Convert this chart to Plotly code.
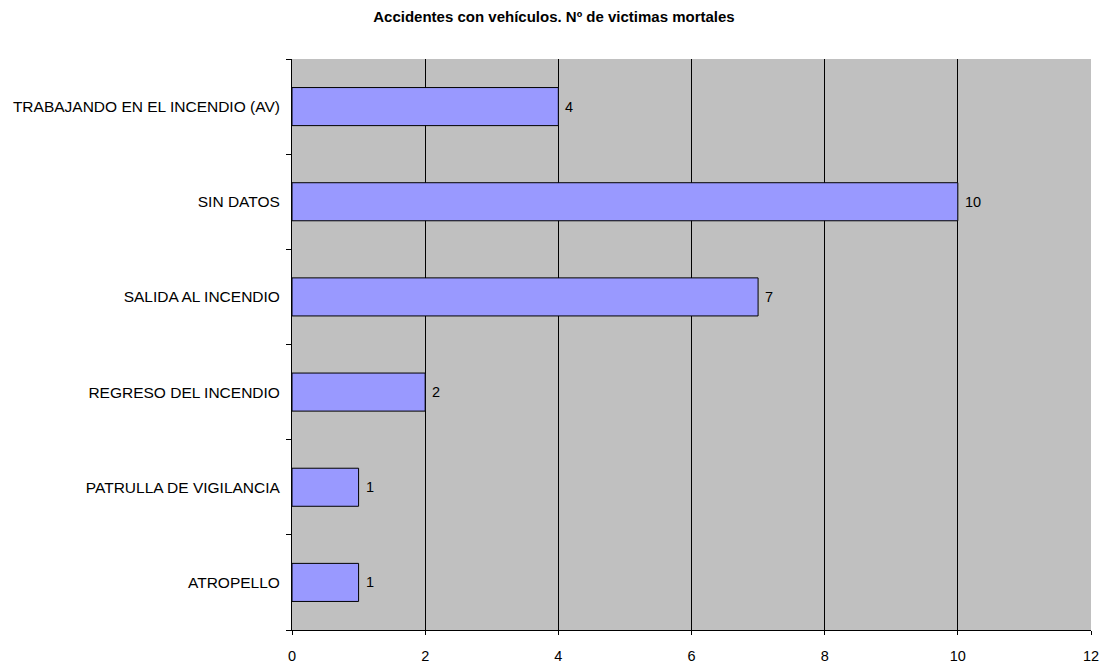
import plotly.graph_objects as go

categories = ["ATROPELLO", "PATRULLA DE VIGILANCIA", "REGRESO DEL INCENDIO",
              "SALIDA AL INCENDIO", "SIN DATOS", "TRABAJANDO EN EL INCENDIO (AV)"]
values = [1, 1, 2, 7, 10, 4]
x_ticks = [0, 2, 4, 6, 8, 10, 12]

FONT = "Liberation Sans, Arial"
W, H = 1099, 658  # page has an 8px body margin

fig = go.Figure(go.Bar(
    y=categories, x=values, orientation="h", width=0.4,
    marker=dict(color="#9999FF", line=dict(color="black", width=1)),
    hoverinfo="x+y",
))

for c, v in zip(categories, values):
    fig.add_annotation(x=v, y=c, text=str(v), showarrow=False,
                       xanchor="left", yanchor="middle", xshift=5,
                       font=dict(family=FONT, size=14.5, color="black"))

fig.update_layout(
    width=W, height=H,
    margin=dict(l=284, r=16, t=51, b=36, autoexpand=False),
    paper_bgcolor="white", plot_bgcolor="#C0C0C0",
    font=dict(family=FONT, size=14.5, color="black"),
    title=dict(text="<b>Accidentes con vehículos. Nº de victimas mortales</b>",
               x=546 / W, xanchor="center", xref="container",
               y=1 - 9 / H, yref="container", yanchor="middle",
               font=dict(size=15, family=FONT, color="black"),
               automargin=False),
    showlegend=False,
)
fig.update_xaxes(range=[0, 12], tickvals=x_ticks, showgrid=True, gridcolor="black",
                 gridwidth=1, showline=True, linecolor="black", linewidth=1,
                 ticks="outside", ticklen=4, tickcolor="black", zeroline=False,
                 tickfont=dict(size=14.5), automargin=False, ticklabelstandoff=9)
fig.update_yaxes(showline=True, linecolor="black", linewidth=1, ticks="outside",
                 tickson="boundaries", ticklen=5, tickcolor="black", showgrid=False,
                 tickfont=dict(size=15.5), ticklabelstandoff=8, automargin=False)

fig.write_html("out.html")
